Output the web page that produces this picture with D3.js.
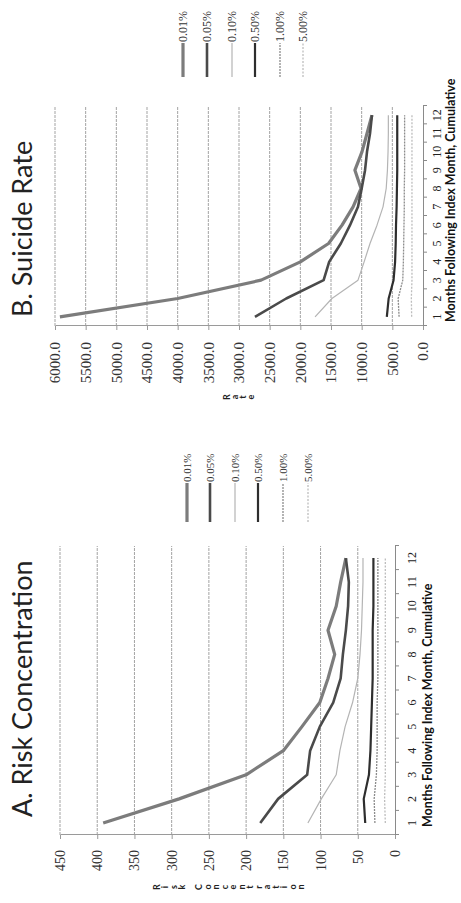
<!DOCTYPE html>
<html>
<head>
<meta charset="utf-8">
<script src="https://cdn.jsdelivr.net/npm/d3@7"></script>
<style>
body { margin: 0; background: #fff; }
svg { display: block; }
</style>
</head>
<body>
<div id="chart"></div>
<script>

// months on the category axis
var months = [1, 2, 3, 4, 5, 6, 7, 8, 9, 10, 11, 12];
var seriesNames = ["0.01%", "0.05%", "0.10%", "0.50%", "1.00%", "5.00%"];

// A. Risk Concentration
var risk001 = [392, 290, 200, 150, 125, 101, 90, 81, 90, 79, 73, 66];
var risk005 = [181, 157, 118, 114, 101, 83, 73, 70, 66, 63, 62, 66];
var risk010 = [117, 99, 79, 74, 67, 57, 50, 47, 45, 44, 43, 43];
var risk050 = [40, 42, 35, 33, 32, 31, 30, 30, 30, 29, 29, 29];
var risk100 = [27, 28, 25, 24, 24, 24, 23, 23, 23, 23, 23, 23];
var risk500 = [13, 14, 13, 13, 13, 13, 13, 13, 13, 13, 13, 13];
var riskTicks = [0, 50, 100, 150, 200, 250, 300, 350, 400, 450];

// B. Suicide Rate
var rate001 = [5920, 4000, 2640, 2000, 1540, 1320, 1140, 1010, 1110, 995, 913, 832];
var rate005 = [2740, 2230, 1620, 1530, 1340, 1190, 1060, 1000, 945, 913, 864, 832];
var rate010 = [1760, 1485, 1060, 960, 864, 750, 652, 600, 580, 570, 565, 565];
var rate050 = [590, 560, 480, 455, 445, 440, 430, 425, 420, 420, 420, 420];
var rate100 = [390, 405, 330, 320, 315, 310, 305, 305, 300, 300, 300, 300];
var rate500 = [185, 190, 180, 180, 180, 180, 180, 180, 180, 180, 180, 180];
var rateTicks = [0, 500, 1000, 1500, 2000, 2500, 3000, 3500, 4000, 4500, 5000, 5500, 6000];

var lineStyles = [
    {color: "#7c7c7c", width: 3.2, dash: null},
    {color: "#4a4a4a", width: 2.6, dash: null},
    {color: "#b4b4b4", width: 1.2, dash: null},
    {color: "#2e2e2e", width: 2.2, dash: null},
    {color: "#8c8c8c", width: 1.3, dash: "2,1"},
    {color: "#bdbdbd", width: 1.3, dash: "2,1.5"}
];

// the figure is drawn in its own 903x461 frame and then turned a quarter left
var W = 903, H = 461;

var svg = d3.select("#chart").append("svg")
    .attr("width", H)
    .attr("height", W);

var page = svg.append("g")
    .attr("transform", "translate(0," + W + ") rotate(-90)");

function LineChart(g, o){

    var x = d3.scaleBand()
        .domain(months)
        .range([o.left, o.right]);

    var y = d3.scaleLinear()
        .domain([0, o.max])
        .range([o.bottom, o.top]);

    var bw = x.bandwidth();

    // gridlines
    g.selectAll("line.grid")
        .data(o.ticks.filter(function(d){ return d > 0; }))
        .enter().append("line")
        .attr("class", "grid")
        .attr("x1", o.left)
        .attr("x2", o.right)
        .attr("y1", function(d){ return y(d); })
        .attr("y2", function(d){ return y(d); })
        .attr("stroke", "#a3a3a3")
        .attr("stroke-width", 1)
        .attr("stroke-dasharray", "3,1");

    // value axis
    var yAxis = g.append("g")
        .attr("transform", "translate(" + o.left + ",0)")
        .call(d3.axisLeft(y)
            .tickValues(o.ticks)
            .tickSize(4)
            .tickSizeOuter(0)
            .tickPadding(o.labelGap)
            .tickFormat(o.format));
    yAxis.select(".domain").attr("stroke", "#9a9a9a");
    yAxis.selectAll(".tick line").attr("stroke", "#9a9a9a");
    yAxis.selectAll("text")
        .style("font-family", "'Liberation Serif', serif")
        .style("font-size", o.tickFont + "px")
        .attr("fill", "#333");

    // category axis: line and separators between months
    var edges = d3.scaleLinear().domain([0, 12]).range([o.left, o.right]);
    var sep = g.append("g")
        .attr("transform", "translate(0," + y(0) + ")")
        .call(d3.axisBottom(edges)
            .tickValues(d3.range(13))
            .tickSize(4)
            .tickSizeOuter(0)
            .tickFormat(""));
    sep.select(".domain").attr("stroke", "#8a8a8a");
    sep.selectAll(".tick line").attr("stroke", "#8a8a8a");

    var xAxis = g.append("g")
        .attr("transform", "translate(0," + y(0) + ")")
        .call(d3.axisBottom(x).tickSize(0).tickPadding(o.monthGap));
    xAxis.select(".domain").remove();
    xAxis.selectAll("text")
        .style("font-family", "'Liberation Serif', serif")
        .style("font-size", "12px")
        .attr("fill", "#222");

    // series
    var line = d3.line()
        .x(function(d, i){ return x(months[i]) + bw / 2; })
        .y(function(d){ return y(d); });

    o.series.forEach(function(s, i){
        var st = lineStyles[i];
        g.append("path")
            .datum(s)
            .attr("fill", "none")
            .attr("stroke", st.color)
            .attr("stroke-width", st.width)
            .attr("stroke-dasharray", st.dash)
            .attr("stroke-linejoin", "round")
            .attr("d", line);
    });

    // title
    g.append("text")
        .attr("x", o.titleX)
        .attr("y", 32)
        .style("font-family", "Lato, sans-serif")
        .style("font-size", "27px")
        .attr("fill", "#222")
        .text(o.title);

    // x axis title
    g.append("text")
        .attr("x", o.xTitleX)
        .attr("y", o.xTitleY)
        .style("font-family", "Lato, sans-serif")
        .style("font-size", "12.5px")
        .style("font-weight", "bold")
        .attr("fill", "#111")
        .text("Months Following Index Month, Cumulative");

    // stacked y axis title
    var letters = o.yTitle.split("");
    g.selectAll("text.ytitle")
        .data(letters)
        .enter().append("text")
        .attr("class", "ytitle")
        .attr("x", o.yTitleX)
        .attr("y", function(d, i){ return o.yTitleTop + i * o.yTitleStep; })
        .attr("text-anchor", "middle")
        .attr("dominant-baseline", "central")
        .style("font-family", "Lato, sans-serif")
        .style("font-size", "9px")
        .style("font-weight", "bold")
        .attr("fill", "#222")
        .text(function(d){ return d; });

    // legend
    var leg = g.selectAll("g.legend")
        .data(seriesNames)
        .enter().append("g")
        .attr("class", "legend")
        .attr("transform", function(d, i){ return "translate(0," + o.legendY[i] + ")"; });

    leg.append("line")
        .attr("x1", o.legendX)
        .attr("x2", o.legendX + o.legendLen)
        .attr("stroke", function(d, i){ return lineStyles[i].color; })
        .attr("stroke-width", function(d, i){ return lineStyles[i].width; })
        .attr("stroke-dasharray", function(d, i){ return lineStyles[i].dash; });

    leg.append("text")
        .attr("x", o.legendX + o.legendLen + 1)
        .attr("dominant-baseline", "central")
        .style("font-family", "'Liberation Serif', serif")
        .style("font-size", o.legendFont + "px")
        .attr("fill", "#333")
        .text(function(d){ return d; });
}

LineChart(page.append("g"), {
    left: 68, right: 357, top: 60, bottom: 395, max: 450,
    ticks: riskTicks, format: d3.format("d"),
    series: [risk001, risk005, risk010, risk050, risk100, risk500],
    labelGap: 11, tickFont: 14, monthGap: 12,
    title: "A. Risk Concentration", titleX: 86,
    xTitleX: 76, xTitleY: 432,
    yTitle: "Risk Concentration", yTitleX: 16, yTitleTop: 156, yTitleStep: 8.5,
    legendX: 381, legendLen: 39, legendFont: 11,
    legendY: [187, 210, 235, 258, 283, 308]
});

LineChart(page.append("g"), {
    left: 577, right: 797, top: 55, bottom: 423, max: 6000,
    ticks: rateTicks, format: d3.format(".1f"),
    series: [rate001, rate005, rate010, rate050, rate100, rate500],
    labelGap: 12, tickFont: 15, monthGap: 9,
    title: "B. Suicide Rate", titleX: 586,
    xTitleX: 581, xTitleY: 455,
    yTitle: "Rate", yTitleX: 506, yTitleTop: 226, yTitleStep: 8,
    legendX: 826, legendLen: 34, legendFont: 12,
    legendY: [183, 207, 232, 255, 280, 303]
});

</script>
</body>
</html>
